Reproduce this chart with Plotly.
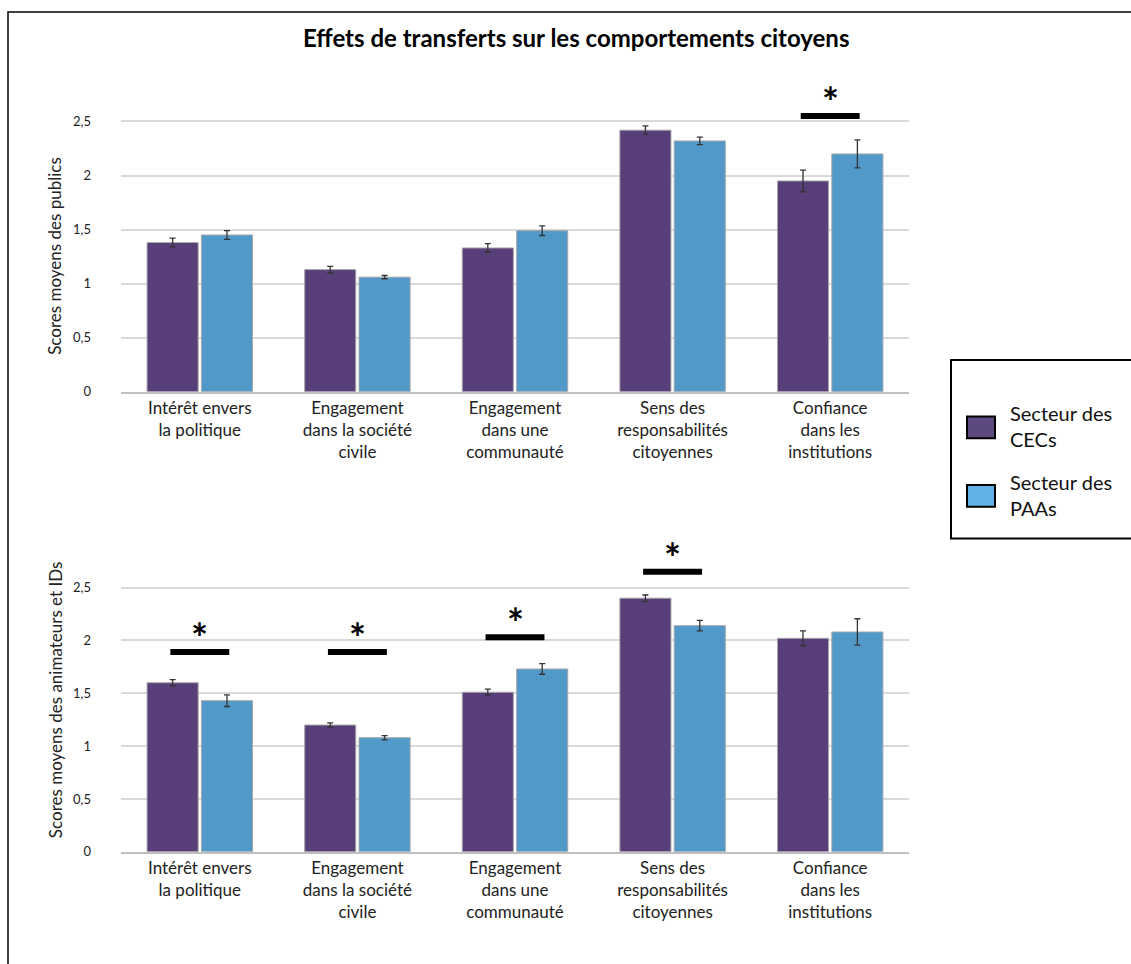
import plotly.graph_objects as go

W, H = 1131, 964

categories = ["Intérêt envers<br>la politique", "Engagement<br>dans la société<br>civile",
              "Engagement<br>dans une<br>communauté", "Sens des<br>responsabilités<br>citoyennes",
              "Confiance<br>dans les<br>institutions"]
series_names = ["Secteur des CECs", "Secteur des PAAs"]

# Top panel: publics
top_cec = [1.38, 1.13, 1.33, 2.42, 1.95]
top_cec_err = [0.04, 0.03, 0.04, 0.04, 0.10]
top_paa = [1.45, 1.06, 1.49, 2.32, 2.20]
top_paa_err = [0.04, 0.015, 0.045, 0.035, 0.13]
top_sig = [None, None, None, None, 2.55]

# Bottom panel: animateurs et IDs
bot_cec = [1.60, 1.20, 1.51, 2.40, 2.02]
bot_cec_err = [0.03, 0.02, 0.03, 0.03, 0.07]
bot_paa = [1.43, 1.08, 1.73, 2.14, 2.08]
bot_paa_err = [0.055, 0.02, 0.05, 0.05, 0.125]
bot_sig = [1.89, 1.89, 2.03, 2.65, None]

tick_vals = [0, 0.5, 1, 1.5, 2, 2.5]
tick_text = ["0", "0,5", "1", "1,5", "2", "2,5"]

title = "Effets de transferts sur les comportements citoyens"
ytitle_top = "Scores moyens des publics"
ytitle_bot = "Scores moyens des animateurs et IDs"

COL_CEC = "#583F79"
COL_PAA = "#5199C9"
LEG_CEC = "#5C4A7E"
LEG_PAA = "#60B1E8"
FONT = "Lato, 'Open Sans', sans-serif"

def py(px):
    return 1 - px / H

def pxx(px):
    return px / W

idx = list(range(len(categories)))

fig = go.Figure()

panels = [
    ("x", "y", top_cec, top_cec_err, top_paa, top_paa_err, top_sig),
    ("x2", "y2", bot_cec, bot_cec_err, bot_paa, bot_paa_err, bot_sig),
]
for k, (xa, ya, cec, cece, paa, paae, sig) in enumerate(panels):
    for name, vals, errs, col in [(series_names[0], cec, cece, COL_CEC), (series_names[1], paa, paae, COL_PAA)]:
        fig.add_trace(go.Bar(
            x=idx, y=vals, name=name, xaxis=xa, yaxis=ya, showlegend=False,
            marker=dict(color=col, line=dict(color="#A8A8A8", width=1)),
            error_y=dict(type="data", array=errs, color="#333333", thickness=1.3, width=3),
        ))
    for i, s in enumerate(sig):
        if s is None:
            continue
        fig.add_shape(type="line", xref=xa, yref=ya, x0=i - 0.187, x1=i + 0.187, y0=s, y1=s,
                      line=dict(color="black", width=6))
        fig.add_annotation(x=i, y=s, xref=xa, yref=ya, text="<b>*</b>", showarrow=False,
                           yanchor="bottom", yshift=-12, font=dict(size=40, color="black", family=FONT))

# panel geometry (pixels)
x_left, x_right = 121, 909
top_zero, top_scale, top_max = 395, 109.0, 2.8
bot_zero, bot_scale, bot_max = 859, 106.6, 2.9

axis_common = dict(showgrid=False, zeroline=False, showline=True, linecolor="#BFBFBF", linewidth=2,
                   tickvals=idx, ticktext=categories, range=[-0.5, 4.5], ticks="",
                   tickfont=dict(size=17, color="#222", family=FONT))
yaxis_common = dict(tickvals=tick_vals, ticktext=tick_text, showgrid=True, gridcolor="#D9D9D9", gridwidth=1.5,
                    zeroline=False, showline=False, ticks="", ticklabelstandoff=29,
                    tickfont=dict(size=13, color="#222", family=FONT))

fig.update_layout(
    width=W, height=H, margin=dict(l=0, r=0, t=0, b=0),
    paper_bgcolor="white", plot_bgcolor="white",
    barmode="group", bargap=0.31, bargroupgap=0.06,
    font=dict(family=FONT),
    xaxis=dict(domain=[pxx(x_left), pxx(x_right)], anchor="y", **axis_common),
    yaxis=dict(domain=[py(top_zero), py(top_zero - top_max * top_scale)], range=[0, top_max],
               anchor="x", **yaxis_common),
    xaxis2=dict(domain=[pxx(x_left), pxx(x_right)], anchor="y2", **axis_common),
    yaxis2=dict(domain=[py(bot_zero), py(bot_zero - bot_max * bot_scale)], range=[0, bot_max],
                anchor="x2", **yaxis_common),
)

# title
fig.add_annotation(x=pxx(576), y=py(38), xref="paper", yref="paper", text="<b>" + title + "</b>",
                   xanchor="center", yanchor="middle",
                   showarrow=False, font=dict(size=24, color="black", family=FONT))
# y axis titles
fig.add_annotation(x=pxx(55), y=py(258), xref="paper", yref="paper", text=ytitle_top, textangle=-90,
                   xanchor="center", yanchor="middle",
                   showarrow=False, font=dict(size=17, color="#222", family=FONT))
fig.add_annotation(x=pxx(55), y=py(706), xref="paper", yref="paper", text=ytitle_bot, textangle=-90,
                   xanchor="center", yanchor="middle",
                   showarrow=False, font=dict(size=17, color="#222", family=FONT))

# outer border
fig.add_shape(type="rect", xref="paper", yref="paper", x0=pxx(8), x1=1.05, y0=-0.05, y1=py(12),
              line=dict(color="black", width=1.5), fillcolor="rgba(0,0,0,0)")

# legend box
fig.add_shape(type="rect", xref="paper", yref="paper", x0=pxx(951), x1=1.05, y0=py(543), y1=py(363),
              line=dict(color="black", width=2), fillcolor="white")
for name, col, cy in [(series_names[0], LEG_CEC, 431), (series_names[1], LEG_PAA, 500)]:
    fig.add_shape(type="rect", xref="paper", yref="paper", x0=pxx(967), x1=pxx(995),
                  y0=py(cy + 11), y1=py(cy - 11), line=dict(color="black", width=2), fillcolor=col)
    a, b = name.rsplit(" ", 1)
    fig.add_annotation(x=pxx(1008), y=py(cy - 1), xref="paper", yref="paper", text=a + "<br>" + b,
                       xanchor="left", yanchor="middle", align="left", showarrow=False,
                       font=dict(size=20, color="#111", family=FONT))

fig.write_html("out.html", post_script="document.body.style.margin='0';",
               config={"displayModeBar": False})
